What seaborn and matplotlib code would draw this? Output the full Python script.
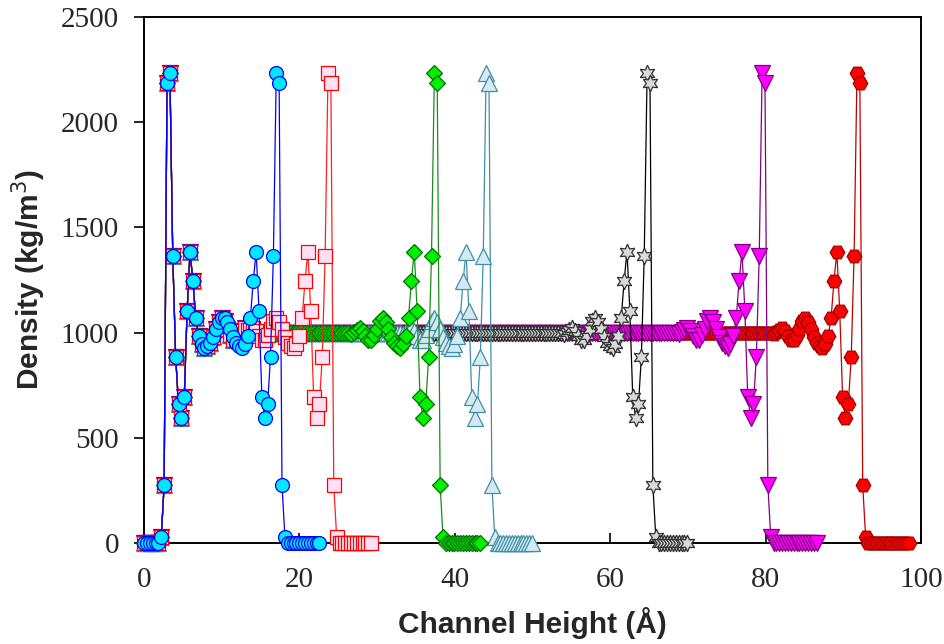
import numpy as np
import pandas as pd
import matplotlib.pyplot as plt
import seaborn as sns

# density profile next to a wall, one value per bin (kg/m^3)
bin_width = 0.37  # Angstrom
bulk_density = 1000
wall_profile = [0, 0, 0, 0, 0, 0, 30, 275, 2185, 2235,
                1366, 885, 660, 596, 695, 1105, 1385, 1245, 1070, 985,
                945, 928, 935, 952, 980, 1018, 1052, 1068, 1055, 1018,
                988, 966, 966, 985, 1008, 1020, 1014, 1003, 995, 996, 1000]

# each channel: position of the second wall peak and last sampled bin (Angstrom)
channels = ["98", "86", "70", "50", "43", "29", "22"]
right_peak = [91.8, 79.7, 64.6, 44.2, 37.36, 23.7, 16.95]
profile_end = [98.3, 86.4, 70.0, 50.1, 43.4, 29.3, 22.4]

styles = [
    dict(marker="H", ms=10.5, color="#C00000", mfc="#FF0000", mec="#A00000"),
    dict(marker="v", ms=11.5, color="#800080", mfc="#FF00FF", mec="#800080"),
    dict(marker=(6, 1, 0), ms=12, color="#000000", mfc="#D9D9D9", mec="#303030"),
    dict(marker="^", ms=11, color="#3F8FA8", mfc="#D5EAF0", mec="#3F8FA8"),
    dict(marker="D", ms=8, color="#1A8C1A", mfc="#00EE00", mec="#007000"),
    dict(marker="s", ms=9.5, color="#FF2020", mfc="#FFE0F5", mec="#FF0000"),
    dict(marker="o", ms=10, color="#0000FF", mfc="#00E8FF", mec="#0000FF"),
]


def build(peak, end):
    n = int(round(end / bin_width)) + 1
    mirror = int(round(peak / bin_width)) + 9
    xs, ys = [], []
    for i in range(n):
        j = mirror - i
        if j < 0:
            val = 0
        else:
            k = min(i, j)
            val = wall_profile[k] if k < len(wall_profile) else bulk_density
        xs.append(i * bin_width)
        ys.append(val)
    return xs, ys


frames = []
for name, pk, end in zip(channels, right_peak, profile_end):
    xs, ys = build(pk, end)
    frames.append(pd.DataFrame({"channel": name, "x": xs, "density": ys}))
df = pd.concat(frames, ignore_index=True)

sns.set_style("white")
plt.rcParams["font.family"] = ["Liberation Serif", "DejaVu Serif"]

fig = plt.figure(figsize=(9.45, 6.44), dpi=100)
ax = fig.add_axes([0.1524, 0.1568, 0.8222, 0.8168])

for name, st in zip(channels, styles):
    sub = df[df["channel"] == name]
    sns.lineplot(data=sub, x="x", y="density", ax=ax, estimator=None, sort=False,
                 color=st["color"], linewidth=0.9, marker=st["marker"],
                 markersize=st["ms"], markerfacecolor=st["mfc"],
                 markeredgecolor=st["mec"], markeredgewidth=0.9,
                 clip_on=False, zorder=3)

ax.set_xlim(0, 100)
ax.set_ylim(0, 2500)
ax.set_xticks(np.arange(0, 101, 20))
ax.set_yticks(np.arange(0, 2501, 500))

for side in ["left", "right", "top", "bottom"]:
    ax.spines[side].set_visible(True)
    ax.spines[side].set_color("black")
    ax.spines[side].set_linewidth(1.4)

ax.tick_params(axis="x", direction="in", length=7, width=1.4, labelsize=21, pad=17,
               bottom=True, top=False)
ax.tick_params(axis="y", direction="out", length=7, width=1.4, labelsize=21, pad=11,
               left=True, right=False)

lab_font = dict(family=["Liberation Sans", "DejaVu Sans"], weight="bold", size=21.5)
ax.set_xlabel("Channel Height (Å)", **lab_font)
ax.set_ylabel("Density (kg/m$^{3}$)", **lab_font)
ax.xaxis.set_label_coords(0.5, -0.122)
ax.yaxis.set_label_coords(-0.124, 0.5)

fig.savefig("out.png", dpi=100)
plt.close(fig)
